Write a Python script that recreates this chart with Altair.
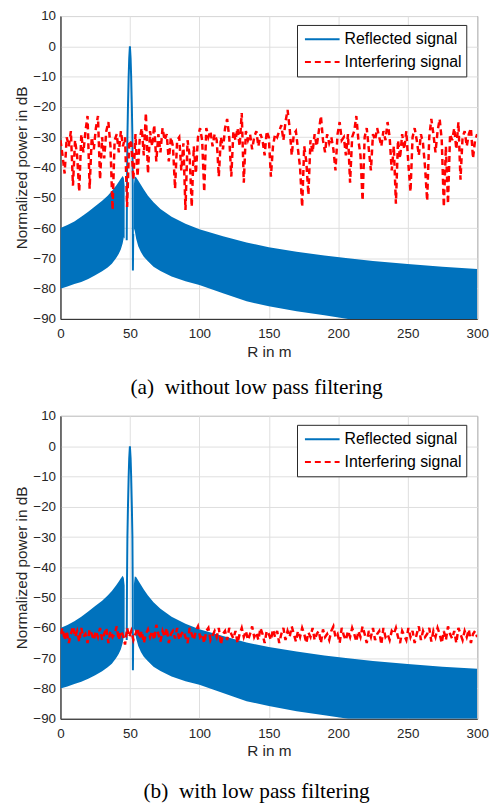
import altair as alt
import pandas as pd

SERIES = ["Reflected signal", "Interfering signal"]
COLORS = ["#0072BD", "#FF0000"]

# Reflected signal: envelope of the fast oscillating side lobes (left and right of the target)
R_LEFT = [0, 5, 10, 15, 20, 25, 30, 34, 37, 40, 42, 43.5, 44.8, 45.6, 46.2]
UP_LEFT = [-60, -59, -57.8, -56.3, -54.6, -52.8, -51, -49.3, -47.8, -46, -44.7, -43.6, -42.8, -43.5, -46]
LO_LEFT = [-80, -79.3, -78.5, -77.8, -76.8, -75.6, -74.3, -73, -71.8, -70, -68.5, -67, -65, -63, -63.5]

R_RIGHT = [52.8, 53.5, 54.5, 56, 58, 60, 63, 67, 72, 80, 90, 100, 117, 134, 150, 170, 190, 207, 225, 250, 275, 300]
UP_RIGHT = [-46, -43, -43.2, -44.3, -45.8, -47.3, -49.3, -51.5, -53.7, -56.3, -58.6, -60.4, -62.7, -64.8,
            -66.3, -67.8, -69.1, -70, -70.9, -71.9, -72.8, -73.5]
LO_RIGHT = [-60, -61, -63.5, -66, -68, -69.5, -71, -72.8, -74.2, -76, -77.6, -78.8, -81.5, -84.2,
            -85.8, -87.5, -88.8, -90, -90, -90, -90, -90]

# Reflected signal: main lobe at 50 m
R_MAIN = [47.7, 47.9, 48.2, 48.6, 49.1, 49.5, 50, 50.5, 50.9, 51.4, 51.8, 52.0, 52.15, 52.4]
P_MAIN = [-64, -45, -30, -20, -10, -4, 0, -4, -10, -20, -30, -45, -74, -62]

# Interfering signal, sampled every 1.5 m from 0 to 300 m
R_INT = [round(1.5 * i, 1) for i in range(201)]
INT_A = [
    -31, -36, -42, -30, -33, -28, -46, -31, -36, -48, -29, -35, -28, -23, -47, -30, -34, -27, -23, -44,
    -30, -37, -28, -25, -33, -54, -31, -29, -35, -28, -33, -30, -53, -31, -32, -44, -29, -43, -31, -27,
    -36, -22, -42, -28, -33, -26, -38, -29, -35, -27, -31, -29, -38, -30, -33, -47, -31, -30, -41, -32,
    -54, -31, -36, -53, -33, -42, -30, -27, -31, -48, -27, -30, -28, -33, -29, -31, -43, -30, -34, -27,
    -24, -30, -43, -28, -31, -27, -33, -22, -45, -28, -31, -29, -34, -30, -28, -33, -29, -31, -36, -28,
    -30, -43, -33, -29, -30, -28, -26, -31, -25, -21, -27, -36, -29, -28, -34, -40, -53, -33, -38, -49,
    -31, -35, -29, -33, -28, -23, -31, -35, -29, -32, -30, -34, -41, -29, -25, -31, -30, -36, -29, -45,
    -30, -28, -23, -31, -36, -51, -30, -27, -34, -41, -29, -31, -27, -30, -33, -28, -31, -25, -30, -41,
    -33, -52, -31, -37, -29, -34, -28, -39, -48, -30, -27, -31, -36, -29, -32, -40, -51, -30, -24, -29,
    -35, -28, -24, -31, -53, -33, -52, -29, -31, -27, -34, -25, -44, -30, -28, -33, -29, -27, -37, -31,
    -29,
]
INT_B = [
    -62, -60, -64, -61, -65, -62, -59.5, -63, -61, -64.5, -60, -63, -62, -65, -60.5, -62, -64, -61, -63, -60,
    -64, -62, -60, -65, -61, -63, -62, -59.5, -64, -61, -62.5, -65.5, -60, -63, -61, -64, -62, -60, -63.5, -61,
    -65, -62, -60.5, -63, -61, -64, -59, -62, -64.5, -61, -63, -60, -65, -62, -61, -63.5, -60, -64, -62, -61,
    -63, -65, -60, -62, -64, -61, -59.5, -63, -62, -65, -61, -60, -64, -62.5, -61, -63, -60, -65.5, -62, -61,
    -64, -60, -62, -63.5, -61, -65, -62, -60, -63, -61, -64, -62, -59.5, -63, -61.5, -64, -60, -62, -65, -61,
    -62, -64, -60.5, -63, -61, -65, -62, -60, -64, -61, -63, -59.5, -62, -64.5, -61, -63, -60, -62, -65, -61.5,
    -63, -60, -64, -62, -61, -65, -60.5, -63, -62, -64, -61, -59.5, -63, -62, -65, -60, -62.5, -64, -61, -63,
    -60, -62, -64.5, -61, -63, -59.5, -62, -65, -61, -63, -60, -64, -62, -61, -65.5, -60, -63, -62, -64, -61,
    -62, -60, -63, -65, -61, -62.5, -64, -60, -63, -61, -65, -62, -59.5, -64, -61, -63, -62, -60, -64.5, -61,
    -63, -60, -62, -65, -61, -64, -59.5, -62, -63.5, -61, -65, -60, -62, -64, -61, -63, -60.5, -65, -62, -61,
    -63,
]

X_TICKS = [0, 50, 100, 150, 200, 250, 300]
Y_TICKS = [-90, -80, -70, -60, -50, -40, -30, -20, -10, 0, 10]

AX_COL = "#262626"


def panel(int_vals, caption, cap_offset):
    band = pd.concat([
        pd.DataFrame({"R": R_LEFT, "lo": LO_LEFT, "hi": UP_LEFT, "seg": "left"}),
        pd.DataFrame({"R": R_RIGHT, "lo": LO_RIGHT, "hi": UP_RIGHT, "seg": "right"}),
    ])
    main = pd.DataFrame({"R": R_MAIN, "P": P_MAIN, "series": SERIES[0]})
    inter = pd.DataFrame({"R": R_INT, "P": int_vals, "series": SERIES[1]})

    xenc = alt.X("R:Q", scale=alt.Scale(domain=[0, 300], nice=False, zero=False),
                 axis=alt.Axis(values=X_TICKS, title="R in m", labelFlush=False))
    yaxis = alt.Axis(values=Y_TICKS, title="Normalized power in dB", labelFlush=False)
    yscale = alt.Scale(domain=[-90, 10], nice=False, zero=False)

    leg = alt.Legend(title=None, orient="none", legendX=239, legendY=9,
                     labelExpr="datum.label + '\u00a0\u00a0'")
    color = alt.Color("series:N", scale=alt.Scale(domain=SERIES, range=COLORS), legend=leg)
    dash = alt.StrokeDash("series:N", scale=alt.Scale(domain=SERIES, range=[[1, 0], [6, 4]]), legend=leg)

    area = alt.Chart(band).mark_area(color=COLORS[0], opacity=1, clip=True, interpolate="linear").encode(
        x=xenc,
        y=alt.Y("lo:Q", scale=yscale, axis=yaxis),
        y2="hi:Q",
        detail="seg:N",
    )
    lobe = alt.Chart(main).mark_line(strokeWidth=2, clip=True).encode(
        x=xenc, y=alt.Y("P:Q", scale=yscale, axis=yaxis), color=color, strokeDash=dash,
    )
    red = alt.Chart(inter).mark_line(strokeWidth=2.5, clip=True).encode(
        x=xenc, y=alt.Y("P:Q", scale=yscale, axis=yaxis), color=color, strokeDash=dash,
    )
    return alt.layer(area, lobe, red).properties(
        width=421, height=306,
        title=alt.Title(caption, orient="bottom", font="Liberation Serif", fontSize=21.5,
                        fontWeight="normal", color="black", offset=cap_offset, anchor="middle",
                        frame="bounds", dx=5),
    )


top = panel(INT_A, "(a)\u2002without low pass filtering", 18)
bottom = panel(INT_B, "(b)\u2002with low pass filtering", 22)

chart = alt.vconcat(top, bottom, spacing=9).resolve_scale(
    color="independent", strokeDash="independent"
).properties(
    padding={"left": 6, "top": -4, "right": 4, "bottom": 0}
).configure_view(
    stroke=AX_COL, strokeWidth=1
).configure_axis(
    labelFont="Liberation Sans", labelFontSize=13.5, labelColor=AX_COL,
    titleFont="Liberation Sans", titleFontSize=15.5, titleColor=AX_COL, titleFontWeight="normal",
    domainColor=AX_COL, ticks=False, gridColor="#dfdfdf", gridOpacity=1, grid=True,
    labelPadding=5,
).configure_axisX(
    labelPadding=8, titlePadding=4,
).configure_axisY(
    titlePadding=3,
).configure_legend(
    symbolType="stroke", symbolSize=1225, symbolStrokeWidth=2, symbolOffset=3,
    clipHeight=21,
    labelFont="Liberation Sans", labelFontSize=16, labelColor="black", labelOffset=4,
    fillColor="white", strokeColor=AX_COL, padding=4, rowPadding=2, cornerRadius=0,
)

chart.save("out.html", embed_options={"renderer": "svg", "actions": False})
